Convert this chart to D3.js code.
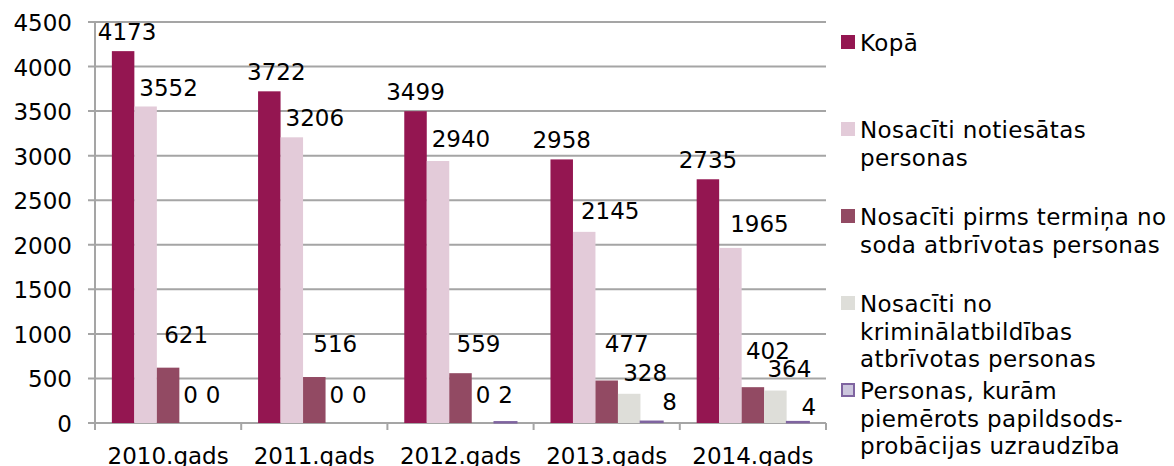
<!DOCTYPE html>
<html>
<head>
<meta charset="utf-8">
<style>
    body { margin: 0; background: #fff; }
    svg { font-family: "DejaVu Sans", Verdana, sans-serif; }
    .tick-label { font-size: 23px; fill: #000; }
    .val { font-size: 23px; fill: #000; text-anchor: middle; }
    .legend text { font-size: 23px; fill: #000; letter-spacing: 0.4px; }
</style>
</head>
<body>
<svg width="1174" height="466"></svg>

<script src="https://d3js.org/d3.v7.min.js"></script>
<script>

    let width = 1174;
    let height = 466;

    let years = ["2010.gads", "2011.gads", "2012.gads", "2013.gads", "2014.gads"];

    let seriesNames = [
        "Kopā",
        "Nosacīti notiesātas personas",
        "Nosacīti pirms termiņa no soda atbrīvotas personas",
        "Nosacīti no kriminālatbildības atbrīvotas personas",
        "Personas, kurām piemērots papildsods-probācijas uzraudzība"
    ];

    // legend text, broken the way the original wraps it
    let legendLines = [
        ["Kopā"],
        ["Nosacīti notiesātas", "personas"],
        ["Nosacīti pirms termiņa no", "soda atbrīvotas personas"],
        ["Nosacīti no", "kriminālatbildības", "atbrīvotas personas"],
        ["Personas, kurām", "piemērots papildsods-", "probācijas uzraudzība"]
    ];

    let kopa       = [4173, 3722, 3499, 2958, 2735];
    let notiesatas = [3552, 3206, 2940, 2145, 1965];
    let pirmsTerm  = [621, 516, 559, 477, 402];
    let noKrimin   = [0, 0, 0, 328, 364];
    let probacija  = [0, 0, 2, 8, 4];

    let yTicks = [0, 500, 1000, 1500, 2000, 2500, 3000, 3500, 4000, 4500];

    let colors = ["#941651", "#E3CBD9", "#924A63", "#DEDED9", "#CCC6DD"];
    let strokes = ["none", "none", "none", "none", "#7F64A0"];

    // label nudges (dx per point, gap above bar) - hand placed in the original
    let labelDx = [
        [4, 7, 0, 0, 0],
        [23, 23, 23, 26, 29],
        [18, 21, 18, 20, 15],
        [0, 0, 0, 16, 14],
        [0, 0, 0, 18, 11]
    ];
    let labelGap = [
        [11, 11, 11, 11, 11],
        [10, 11, 14, 13, 16],
        [25, 25, 21, 28, 28],
        [20, 20, 20, 13, 14],
        [20, 20, 20, 12, 8]
    ];

    let allSeries = [kopa, notiesatas, pirmsTerm, noKrimin, probacija];

    let rows = [];
    allSeries.forEach((vals, s) => {
        vals.forEach((v, i) => rows.push({ s: s, i: i, year: years[i], value: v }));
    });

    let margin = { top: 22, left: 95, right: 348, bottom: 43 };

    let svg = d3.select("svg");

    let x0 = d3.scaleBand().domain(years).range([margin.left, width - margin.right]);
    let x1 = d3.scaleBand().domain(d3.range(5)).range([0, x0.bandwidth()]).paddingOuter(0.75);
    let y = d3.scaleLinear().domain([0, 4500]).range([height - margin.bottom, margin.top]);

    let x0Edge = x0.range()[1];

    // grid
    svg.append("g")
        .selectAll("line")
        .data(yTicks)
        .join("line")
        .attr("x1", margin.left - 7)
        .attr("x2", x0Edge)
        .attr("y1", d => y(d))
        .attr("y2", d => y(d))
        .attr("stroke", "#A5A5A5")
        .attr("stroke-width", 2);

    // y axis line
    svg.append("line")
        .attr("x1", margin.left).attr("x2", margin.left)
        .attr("y1", y(4500)).attr("y2", y(0) + 7)
        .attr("stroke", "#A5A5A5").attr("stroke-width", 2);

    // category ticks
    let catEdges = years.map(d => x0(d)).concat([x0Edge]);
    svg.append("g")
        .selectAll("line")
        .data(catEdges)
        .join("line")
        .attr("x1", d => d).attr("x2", d => d)
        .attr("y1", y(0)).attr("y2", y(0) + 7)
        .attr("stroke", "#A5A5A5").attr("stroke-width", 2);

    svg.append("g")
        .selectAll("text")
        .data(yTicks)
        .join("text")
        .attr("class", "tick-label")
        .attr("x", 72)
        .attr("y", d => y(d) + 9)
        .attr("text-anchor", "end")
        .text(d => d);

    svg.append("g")
        .selectAll("text")
        .data(years)
        .join("text")
        .attr("class", "tick-label")
        .attr("x", d => x0(d) + x0.bandwidth() / 2)
        .attr("y", 464)
        .attr("text-anchor", "middle")
        .text(d => d);

    // bars (zero values get no bar)
    let small = d => d.s == 4 && d.value > 0;
    svg.append("g")
        .selectAll("rect")
        .data(rows.filter(d => d.value > 0))
        .join("rect")
        .attr("x", d => x0(d.year) + x1(d.s))
        .attr("width", x1.bandwidth())
        .attr("y", d => small(d) ? y(d.value) - 1 : y(d.value))
        .attr("height", d => small(d) ? Math.max(1, y(0) - y(d.value)) : y(0) - y(d.value))
        .attr("fill", d => colors[d.s])
        .attr("stroke", d => strokes[d.s])
        .attr("stroke-width", 1.5);

    // value labels
    svg.append("g")
        .selectAll("text")
        .data(rows)
        .join("text")
        .attr("class", "val")
        .attr("x", d => x0(d.year) + x1(d.s) + x1.bandwidth() / 2 + labelDx[d.s][d.i])
        .attr("y", d => y(d.value) - labelGap[d.s][d.i])
        .text(d => d.value);

    // legend
    let legend = svg.append("g").attr("class", "legend");
    legendLines.forEach((lines, i) => {
        let base = 51 + i * 87;
        legend.append("rect")
            .attr("x", i == 4 ? 842 : 841)
            .attr("y", base - 16 + (i == 4 ? 1 : 0))
            .attr("width", i == 4 ? 12 : 14)
            .attr("height", i == 4 ? 12 : 14)
            .attr("fill", colors[i])
            .attr("stroke", strokes[i])
            .attr("stroke-width", 2);
        legend.append("text")
            .attr("x", 860)
            .attr("y", base)
            .selectAll("tspan")
            .data(lines)
            .join("tspan")
            .attr("x", 860)
            .attr("dy", (d, k) => k == 0 ? 0 : 27.5)
            .text(d => d);
    });

</script>
</body>
</html>
